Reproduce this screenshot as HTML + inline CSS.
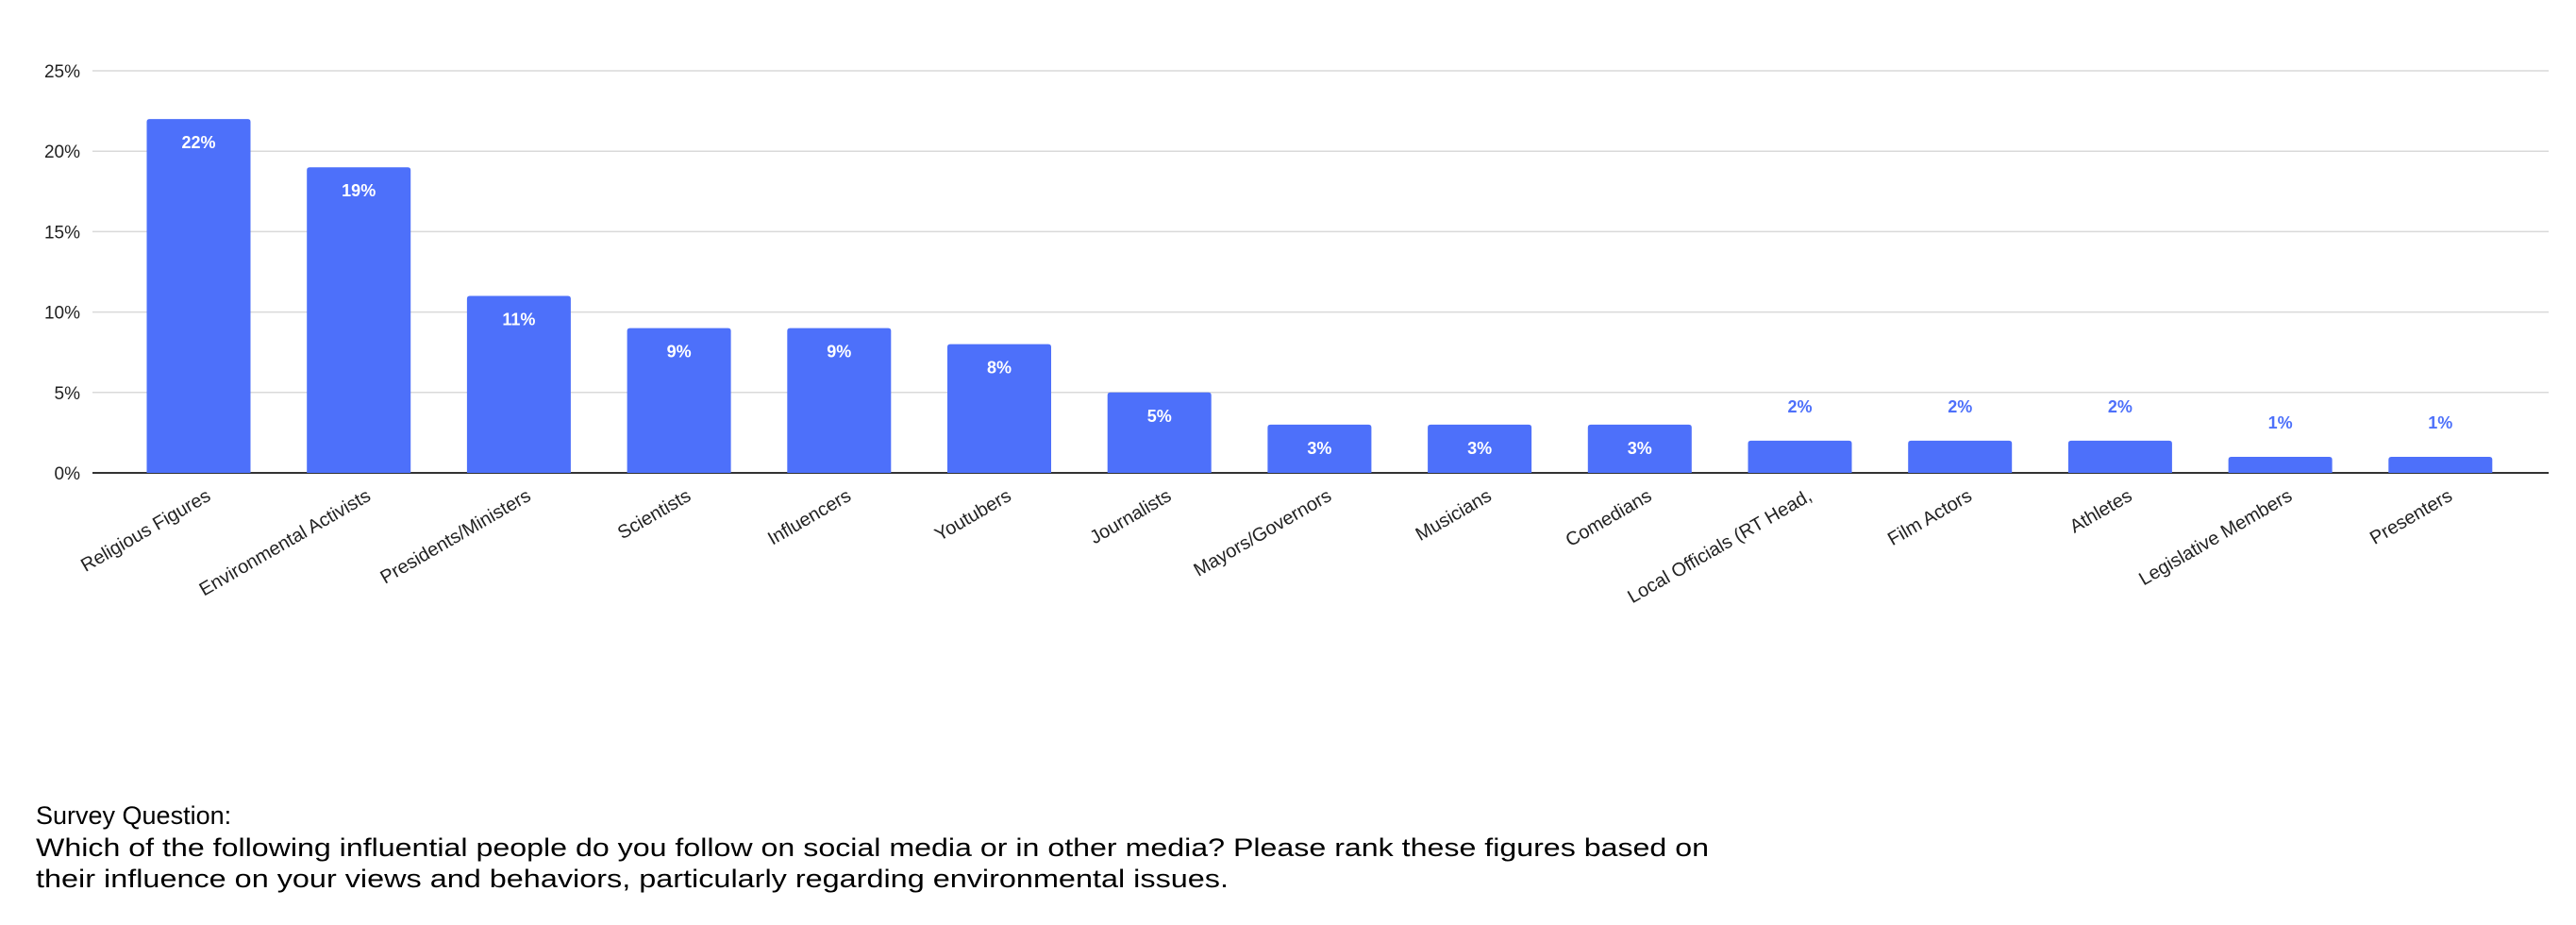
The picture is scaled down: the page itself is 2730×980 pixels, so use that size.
<!DOCTYPE html>
<html><head><meta charset="utf-8"><style>
html,body{margin:0;padding:0;background:#fff;}
svg{display:block;font-family:"Liberation Sans",Arial,sans-serif;}
</style></head><body>
<svg id="chart" width="2730" height="980" viewBox="0 0 2730 980" xmlns="http://www.w3.org/2000/svg">
<g id="grid"></g>
<g id="yaxis"></g>
<g id="bars"></g>
<g id="xaxis"></g>
<g font-size="27" fill="#000">
<text x="38" y="873">Survey Question:</text>
<text x="38" y="907" textLength="1773" lengthAdjust="spacingAndGlyphs">Which of the following influential people do you follow on social media or in other media? Please rank these figures based on</text>
<text x="38" y="940" textLength="1264" lengthAdjust="spacingAndGlyphs">their influence on your views and behaviors, particularly regarding environmental issues.</text>
</g>
</svg>
<script>
const categories = ["Religious Figures","Environmental Activists","Presidents/Ministers","Scientists","Influencers","Youtubers","Journalists","Mayors/Governors","Musicians","Comedians","Local Officials (RT Head,","Film Actors","Athletes","Legislative Members","Presenters"];
const values = [22,19,11,9,9,8,5,3,3,3,2,2,2,1,1];
const yTicks = [0,5,10,15,20,25];
const yTickLabels = ["0%","5%","10%","15%","20%","25%"];

const NS = "http://www.w3.org/2000/svg";
const plotLeft = 98, plotRight = 2701, y0 = 501, yTop = 75, yMax = 25;
const firstCenter = 210.5, step = 169.7, barW = 110;
function yScale(v){ return y0 - (v / yMax) * (y0 - yTop); }
function xCenter(i){ return firstCenter + i * step; }
function mk(tag, attrs){ const e = document.createElementNS(NS, tag); for (const k in attrs) e.setAttribute(k, attrs[k]); return e; }

const grid = document.getElementById('grid');
const yaxis = document.getElementById('yaxis');
yTicks.forEach((t, i) => {
  const y = yScale(t);
  const ln = mk('line', {x1: plotLeft, x2: plotRight, y1: y, y2: y, stroke: t === 0 ? '#333' : '#d9d9d9', 'stroke-width': t === 0 ? 2 : 1.5});
  
  
  grid.appendChild(ln);
  const tx = mk('text', {x: 85, y: y + 7, 'text-anchor': 'end', 'font-size': 19, fill: '#222'});
  tx.textContent = yTickLabels[i];
  
  
  yaxis.appendChild(tx);
});

const bars = document.getElementById('bars');
const xaxis = document.getElementById('xaxis');
values.forEach((v, i) => {
  const cx = xCenter(i), top = yScale(v);
  const r = mk('path', {d: `M${cx-barW/2},${y0} V${top+3} q0,-3 3,-3 H${cx+barW/2-3} q3,0 3,3 V${y0} Z`, fill: '#4d70fa'});
  
  
  bars.appendChild(r);
  const inside = (y0 - top) > 40;
  const lbl = mk('text', {x: cx, y: inside ? top + 31 : top - 30, 'text-anchor': 'middle', 'font-size': 18, 'font-weight': 'bold', fill: inside ? '#fff' : '#4d70fa'});
  lbl.textContent = v + '%';
  
  
  bars.appendChild(lbl);
  const xl = mk('text', {transform: `translate(${cx + 14},${y0 + 28}) rotate(-30)`, 'text-anchor': 'end', 'font-size': 20, fill: '#222'});
  xl.textContent = categories[i];
  
  
  xaxis.appendChild(xl);
});
</script>
</body></html>
